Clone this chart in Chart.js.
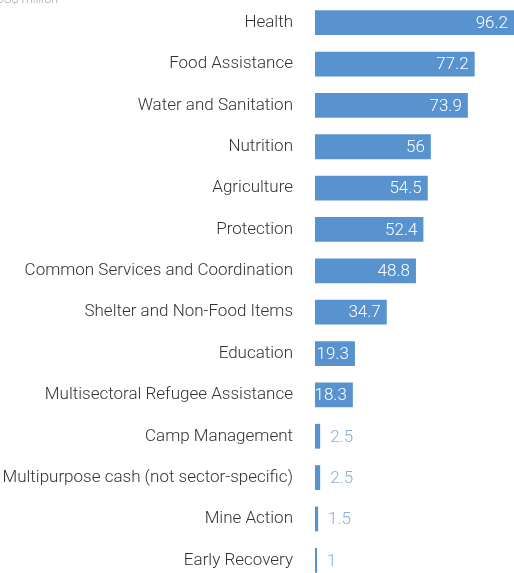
<!DOCTYPE html>
<html>
<head>
<meta charset="utf-8">
<script src="https://cdn.jsdelivr.net/npm/chart.js@4.4.1/dist/chart.umd.min.js"></script>
<style>
  html, body { margin: 0; padding: 0; background: #fff; overflow: hidden; }
  .wrap { position: relative; width: 514px; height: 582px; }
  canvas { display: block; }
  .unit {
    position: absolute; left: -4px; top: -9px;
    font-family: Roboto, sans-serif; font-style: italic; font-weight: 300;
    font-size: 13px; color: #aaa;
  }
</style>
</head>
<body>
<div class="wrap">
  <canvas id="chart" width="514" height="581"></canvas>
  <div class="unit">US$ million</div>
</div>
<script>
const sectors = [
  'Health', 'Food Assistance', 'Water and Sanitation', 'Nutrition', 'Agriculture',
  'Protection', 'Common Services and Coordination', 'Shelter and Non-Food Items',
  'Education', 'Multisectoral Refugee Assistance', 'Camp Management',
  'Multipurpose cash (not sector-specific)', 'Mine Action', 'Early Recovery'
];
const funding = [96.2, 77.2, 73.9, 56, 54.5, 52.4, 48.8, 34.7, 19.3, 18.3, 2.5, 2.5, 1.5, 1];

const barColor = '#5893d0';

// value labels: inside the bar for long bars, outside for short ones
const valueLabels = {
  id: 'valueLabels',
  afterDatasetsDraw(chart) {
    const ctx = chart.ctx;
    const meta = chart.getDatasetMeta(0);
    ctx.save();
    ctx.font = '300 17px Roboto';
    ctx.textBaseline = 'middle';
    meta.data.forEach((bar, i) => {
      const v = funding[i];
      if (v > 10) {
        ctx.fillStyle = '#ffffff';
        ctx.textAlign = 'right';
        ctx.fillText(String(v), bar.x - 6, bar.y + 1);
      } else {
        ctx.fillStyle = '#86aedc';
        ctx.textAlign = 'left';
        ctx.fillText(String(v), bar.x + 10, bar.y + 1);
      }
    });
    ctx.restore();
  }
};

new Chart(document.getElementById('chart'), {
  type: 'bar',
  data: {
    labels: sectors,
    datasets: [{
      data: funding,
      backgroundColor: barColor,
      barPercentage: 0.6,
      categoryPercentage: 1
    }]
  },
  options: {
    responsive: false,
    indexAxis: 'y',
    animation: false,
    layout: { padding: { top: 2, right: 0, bottom: 0, left: 0 } },
    plugins: { legend: { display: false }, tooltip: { enabled: false } },
    scales: {
      x: { display: false, min: 0, max: Math.max(...funding) },
      y: {
        grid: { display: false },
        border: { display: false },
        ticks: {
          color: '#333',
          padding: 14,
          font: { family: 'Roboto', size: 17, weight: 300 }
        },
        afterFit(scale) {
          scale.width = 315;
          scale.paddingTop = 0;
          scale.paddingBottom = 0;
        }
      }
    }
  },
  plugins: [valueLabels]
});
</script>
</body>
</html>
